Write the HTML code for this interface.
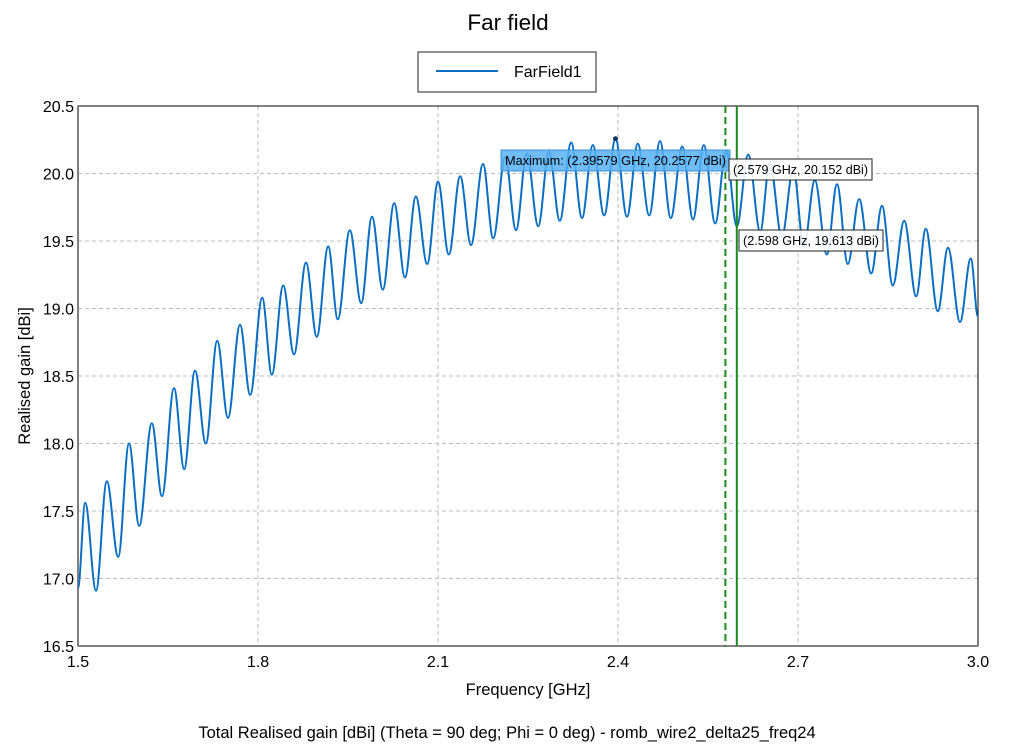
<!DOCTYPE html>
<html><head><meta charset="utf-8"><style>
body{margin:0;background:#fff;}
svg{display:block;font-family:"Liberation Sans",sans-serif;}
</style></head><body>
<svg id="chart" width="1018" height="755">
<text x="508" y="30" font-size="22.5" text-anchor="middle">Far field</text>
<g>
<rect x="418" y="52" width="178" height="40" fill="#fff" stroke="#222" stroke-width="1"/>
<line x1="436" y1="71" x2="498" y2="71" stroke="#0a6fc2" stroke-width="2"/>
<text x="514" y="77" font-size="16">FarField1</text>
</g>
<g id="grid"></g>
<g id="ticks"></g>
<rect x="78" y="106" width="900" height="540" fill="none" stroke="#000" stroke-width="1"/>
<line x1="78" y1="106" x2="78" y2="646" stroke="#808080" stroke-width="2"/>
<line x1="78" y1="646" x2="978" y2="646" stroke="#808080" stroke-width="2"/>
<path id="curve" fill="none" stroke="#0a6fc2" stroke-width="2"/>
<g id="markers"></g>
<text x="528" y="695" font-size="16.5" text-anchor="middle">Frequency [GHz]</text>
<text x="30" y="376" font-size="16.5" text-anchor="middle" transform="rotate(-90 30 376)">Realised gain [dBi]</text>
<text x="507" y="738" font-size="16.5" text-anchor="middle">Total Realised gain [dBi] (Theta = 90 deg; Phi = 0 deg) - romb_wire2_delta25_freq24</text>
</svg>
<script>
const xTicks=[1.5,1.8,2.1,2.4,2.7,3.0];
const yTicks=[16.5,17.0,17.5,18.0,18.5,19.0,19.5,20.0,20.5];
const freqs=[1.5,1.512,1.530,1.548,1.567,1.585,1.602,1.623,1.640,1.660,1.677,1.695,1.713,1.732,1.750,1.770,1.787,1.807,1.823,1.842,1.860,1.880,1.898,1.917,1.933,1.953,1.972,1.990,2.008,2.027,2.045,2.063,2.082,2.100,2.118,2.137,2.155,2.175,2.192,2.212,2.230,2.248,2.267,2.285,2.303,2.322,2.340,2.358,2.377,2.3958,2.415,2.433,2.452,2.470,2.488,2.507,2.525,2.543,2.562,2.580,2.598,2.617,2.637,2.653,2.673,2.692,2.710,2.728,2.748,2.765,2.783,2.802,2.822,2.840,2.858,2.877,2.897,2.913,2.933,2.950,2.970,2.988,3.0];
const gains=[16.93,17.56,16.91,17.72,17.16,18.00,17.39,18.15,17.61,18.41,17.81,18.54,18.00,18.76,18.19,18.88,18.36,19.08,18.51,19.17,18.66,19.34,18.79,19.46,18.92,19.58,19.04,19.68,19.14,19.78,19.23,19.83,19.33,19.94,19.40,19.98,19.47,20.07,19.52,20.12,19.58,20.15,19.61,20.16,19.65,20.23,19.67,20.21,19.69,20.2577,19.68,20.22,19.69,20.24,19.67,20.20,19.66,20.21,19.63,20.17,19.61,20.14,19.57,20.08,19.53,20.03,19.46,19.95,19.40,19.92,19.33,19.81,19.26,19.76,19.17,19.65,19.09,19.59,18.98,19.45,18.90,19.37,18.94];
const markerFreqs=[2.579,2.598];
const markerGains=[20.152,19.613];
const maxFreq=2.39579, maxGain=20.2577;
const X=f=>78+(f-1.5)/1.5*900;
const Y=g=>646-(g-16.5)/4*540;
const NS="http://www.w3.org/2000/svg";
function mk(tag,attrs,parent){const e=document.createElementNS(NS,tag);for(const k in attrs)e.setAttribute(k,attrs[k]);parent.appendChild(e);return e;}
const grid=document.getElementById('grid'),ticks=document.getElementById('ticks');
xTicks.forEach(t=>{
 if(t>1.5&&t<3.0){const l=mk('line',{x1:X(t),x2:X(t),y1:106,y2:646,stroke:'#bdbdbd','stroke-dasharray':'4,3'},grid);
 
 }
 const tx=mk('text',{x:X(t),y:667,'font-size':16,'text-anchor':'middle'},ticks);tx.textContent=t.toFixed(1);
 
 
});
yTicks.forEach(t=>{
 if(t>16.5&&t<20.5){const l=mk('line',{x1:78,x2:978,y1:Y(t),y2:Y(t),stroke:'#bdbdbd','stroke-dasharray':'4,3'},grid);
 
 }
 const tx=mk('text',{x:74,y:Y(t)+6,'font-size':16,'text-anchor':'end'},ticks);tx.textContent=t.toFixed(1);
 
 
});
let d='M'+X(freqs[0])+' '+Y(gains[0]);
for(let i=1;i<freqs.length;i++){
 const x0=X(freqs[i-1]),y0=Y(gains[i-1]),x1=X(freqs[i]),y1=Y(gains[i]);const dx=(x1-x0)*0.36;
 d+=` C${x0+dx} ${y0} ${x1-dx} ${y1} ${x1} ${y1}`;
}
document.getElementById('curve').setAttribute('d',d);
const m=document.getElementById('markers');
const v1=mk('line',{x1:X(markerFreqs[0]),x2:X(markerFreqs[0]),y1:106,y2:646,stroke:'#1a8a1a','stroke-width':2,'stroke-dasharray':'7,4'},m);


const v2=mk('line',{x1:X(markerFreqs[1]),x2:X(markerFreqs[1]),y1:106,y2:646,stroke:'#1a8a1a','stroke-width':2},m);


const dot=mk('circle',{cx:X(maxFreq),cy:Y(maxGain),r:2.5,fill:'#0b3a66'},m);


function label(x,y,w,txt,fill,name){
 const g=mk('g',{},m);
 
 
 mk('rect',{x:x,y:y,width:w,height:21,fill:fill,stroke:fill==='#fff'?'#222':'#3a8fd0','stroke-width':1,'fill-opacity':fill==='#fff'?0.9:0.85},g);
 const t=mk('text',{x:x+4,y:y+15,'font-size':12.8,textLength:w-8,lengthAdjust:'spacingAndGlyphs'},g);t.textContent=txt;
}
label(501,150,229,`Maximum: (${maxFreq} GHz, ${maxGain} dBi)`,'#57b2f5','maximum-label');
label(729,159,143,`(${markerFreqs[0]} GHz, ${markerGains[0]} dBi)`,'#fff','marker-1-label');
label(739,230,144,`(${markerFreqs[1]} GHz, ${markerGains[1]} dBi)`,'#fff','marker-2-label');
</script>
</body></html>
